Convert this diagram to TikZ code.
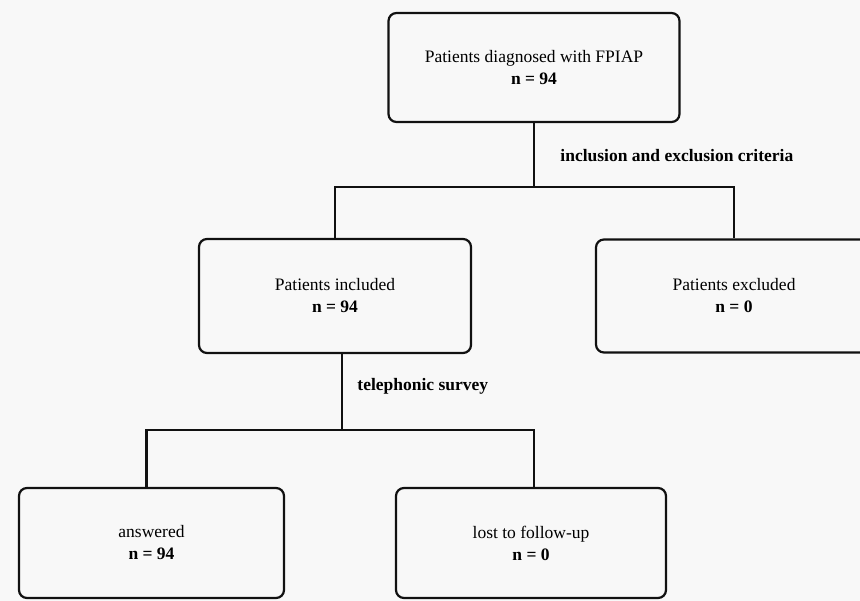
\documentclass[tikz,border=0pt]{standalone}
\usepackage{fontspec}
\setmainfont{Liberation Serif}
\usepackage{tikz}
\usetikzlibrary{positioning,calc}
\definecolor{paper}{HTML}{F8F8F8}
\definecolor{ink}{HTML}{111111}
\tikzset{
  box/.style={draw=ink, line width=2.2pt, rounded corners=8pt, fill=paper, minimum width=270pt,
              minimum height=111pt, align=center, font=\fontsize{17.5}{22}\selectfont},
  link/.style={draw=ink, line width=2.2pt},
  note/.style={font=\fontsize{17.5}{22}\selectfont\bfseries}
}
\begin{document}
\begin{tikzpicture}[x=1pt, y=-1pt]

  %% page
  \fill[paper] (0,0) rectangle (860,601);
  \useasboundingbox (0,0) rectangle (860,601);
  \clip (0,0) rectangle (860,601);

  %% screening
  \node[box, minimum width=291pt, minimum height=109pt] (top) at (534,67.5)
        {Patients diagnosed with FPIAP\\\textbf{n = 94}};
  \coordinate (split1) at (534,187);

  %% inclusion
  \node[box, minimum width=272pt, minimum height=114pt] (incl) at (335,296)
        {Patients included\\\textbf{n = 94}};
  \node[box, minimum width=276pt, minimum height=113pt] (excl) at (734,296)
        {Patients excluded\\\textbf{n = 0}};
  \coordinate (split2) at (342,430);

  %% follow-up
  \node[box, minimum width=265pt, minimum height=110pt] (answ) at (151.5,543)
        {answered\\\textbf{n = 94}};
  \node[box, minimum width=270pt, minimum height=110pt] (lost) at (531,543)
        {lost to follow-up\\\textbf{n = 0}};

  %% links
  \draw[link] (top.south) -- node[note, right=22pt]{inclusion and exclusion criteria} (split1);
  \draw[link] (split1) -| (incl.north);
  \draw[link] (split1) -| (excl.north);
  \draw[link] (split2 |- incl.south) -- node[note, right=11pt, yshift=6pt]{telephonic survey} (split2);
  \draw[link] (split2) -| ([xshift=-5pt]answ.north);
  \draw[link] (split2) -| ([xshift=3pt]lost.north);

\end{tikzpicture}
\end{document}
